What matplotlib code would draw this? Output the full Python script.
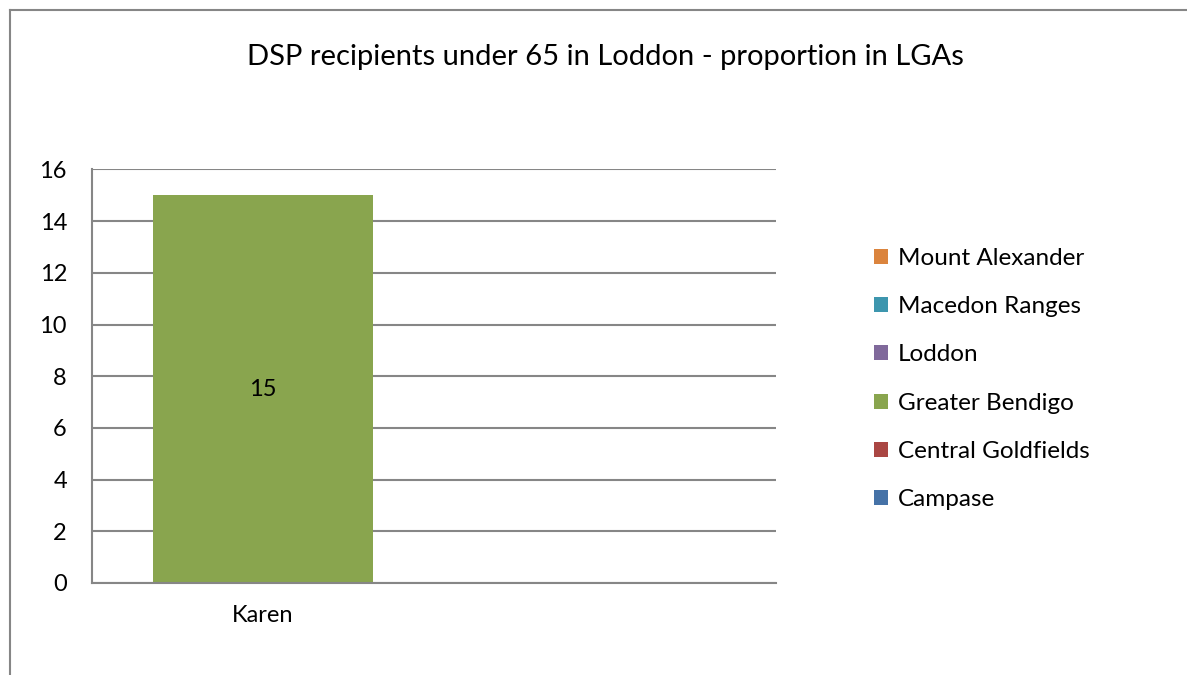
import pandas as pd
import matplotlib.pyplot as plt
from matplotlib.lines import Line2D
from matplotlib.patches import Patch

plt.rcParams['font.family'] = 'Lato'

# values (only Greater Bendigo has a bar)
categories = ['Karen', '']
series_names = ['Campase', 'Central Goldfields', 'Greater Bendigo',
                'Loddon', 'Macedon Ranges', 'Mount Alexander']
campase = [0, 0]
central_goldfields = [0, 0]
greater_bendigo = [15, 0]
loddon = [0, 0]
macedon_ranges = [0, 0]
mount_alexander = [0, 0]
colors = ['#4572A7', '#AA4643', '#89A54E', '#80699B', '#3D96AE', '#DB843D']

df = pd.DataFrame({'Campase': campase,
                   'Central Goldfields': central_goldfields,
                   'Greater Bendigo': greater_bendigo,
                   'Loddon': loddon,
                   'Macedon Ranges': macedon_ranges,
                   'Mount Alexander': mount_alexander}, index=categories)

fig = plt.figure(figsize=(11.87, 6.75), dpi=100)
ax = fig.add_axes([0.0775, 0.1363, 0.5762, 0.6126])

df.plot(kind='bar', stacked=True, ax=ax, width=0.644, color=colors, legend=False)

ax.set_ylim(0, 16)
ax.set_xlim(-0.5, 1.5)
ax.set_yticks(range(0, 17, 2))
ax.yaxis.grid(True, color='#868686', linewidth=1.5)
ax.set_axisbelow(True)
for s in ['top', 'right']:
    ax.spines[s].set_visible(False)
for s in ['left', 'bottom']:
    ax.spines[s].set_color('#868686')
    ax.spines[s].set_linewidth(1.5)
ax.tick_params(axis='y', length=0, pad=18, labelsize=17)
ax.tick_params(axis='x', length=0, pad=16, labelsize=17, rotation=0)
ax.set_xlabel('')

# data label in middle of the bar
for i, v in enumerate(greater_bendigo):
    if v > 0:
        ax.text(i, v / 2, str(v), ha='center', va='center', fontsize=17)

fig.text(0.5097, 0.915, 'DSP recipients under 65 in Loddon - proportion in LGAs',
         ha='center', va='center', fontsize=21)

handles = [Patch(facecolor=c) for c in colors][::-1]
fig.legend(handles, series_names[::-1], loc='center left',
           bbox_to_anchor=(0.718, 0.4385), frameon=False, fontsize=17.5,
           handlelength=0.57, handleheight=0.57, handletextpad=0.4, labelspacing=1.12)

# chart border (only top and left visible)
fig.add_artist(Line2D([0.0084, 1.0], [0.985, 0.985], color='#868686', linewidth=1.5))
fig.add_artist(Line2D([0.0084, 0.0084], [0.0, 0.985], color='#868686', linewidth=1.5))

fig.savefig('out.png', dpi=100)
